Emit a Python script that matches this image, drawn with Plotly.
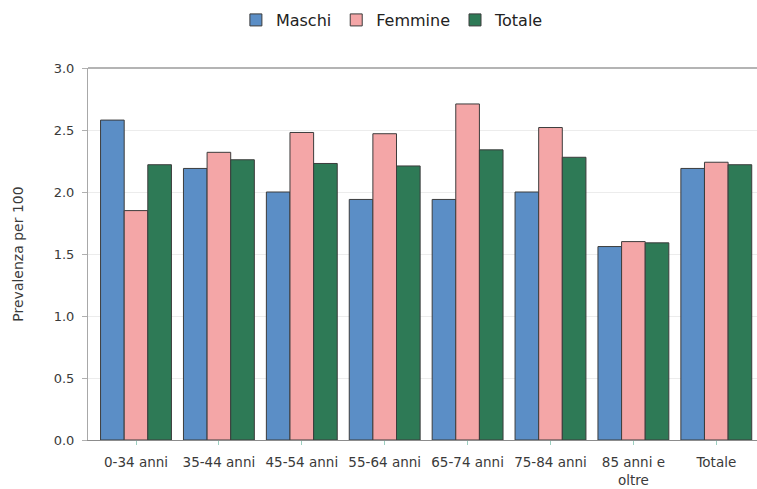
import plotly.graph_objects as go

categories = ["0-34 anni", "35-44 anni", "45-54 anni", "55-64 anni", "65-74 anni", "75-84 anni", "85 anni e<br>oltre", "Totale"]
maschi = [2.58, 2.19, 2.00, 1.94, 1.94, 2.00, 1.56, 2.19]
femmine = [1.85, 2.32, 2.48, 2.47, 2.71, 2.52, 1.60, 2.24]
totale = [2.22, 2.26, 2.23, 2.21, 2.34, 2.28, 1.59, 2.22]
y_ticks = [0.0, 0.5, 1.0, 1.5, 2.0, 2.5, 3.0]

series = [("Maschi", maschi, "#5b8ec6"), ("Femmine", femmine, "#f4a6a7"), ("Totale", totale, "#2e7a56")]

fig = go.Figure()
for name, vals, col in series:
    fig.add_trace(go.Bar(x=categories, y=vals, name=name,
                         marker=dict(color=col, line=dict(color="#3c3c3c", width=1))))

fig.update_layout(
    width=757, height=489,
    paper_bgcolor="white", plot_bgcolor="white",
    margin=dict(l=88, r=0, t=68, b=49, autoexpand=False),
    barmode="group", bargap=0.145, bargroupgap=0,
    font=dict(family="DejaVu Sans", size=13, color="#3a3a3a"),
    legend=dict(orientation="h", x=0.455, xanchor="center", y=1.129, yref="paper", yanchor="middle",
                font=dict(size=16, color="#222222"), itemwidth=30, traceorder="normal"),
    xaxis=dict(range=[-0.579, 7.491], showline=True, linecolor="#8c8c8c", linewidth=1,
               ticks="outside", ticklen=4, tickcolor="#9ccfc0", ticklabelstandoff=6,
               tickfont=dict(size=13.5, color="#3a3a3a"), automargin=False),
    yaxis=dict(range=[0, 3.0], tickvals=y_ticks, tickformat=".1f", showgrid=True, gridcolor="#ececec",
               showline=True, linecolor="#a8a8a8", ticks="outside", ticklen=5, tickcolor="#b0b0b0",
               ticklabelstandoff=5,
               tickfont=dict(size=13, color="#3a3a3a"), zeroline=False, automargin=False,
               title=dict(text="Prevalenza per 100", font=dict(size=14, color="#3a3a3a"), standoff=26)),
)
fig.add_shape(type="line", xref="paper", yref="paper", x0=0, x1=1, y0=1, y1=1,
              line=dict(color="#b4b4b4", width=2))
fig.write_html("out.html", config={"displayModeBar": False},
               post_script="document.body.style.margin='0';document.body.style.overflow='hidden';")
